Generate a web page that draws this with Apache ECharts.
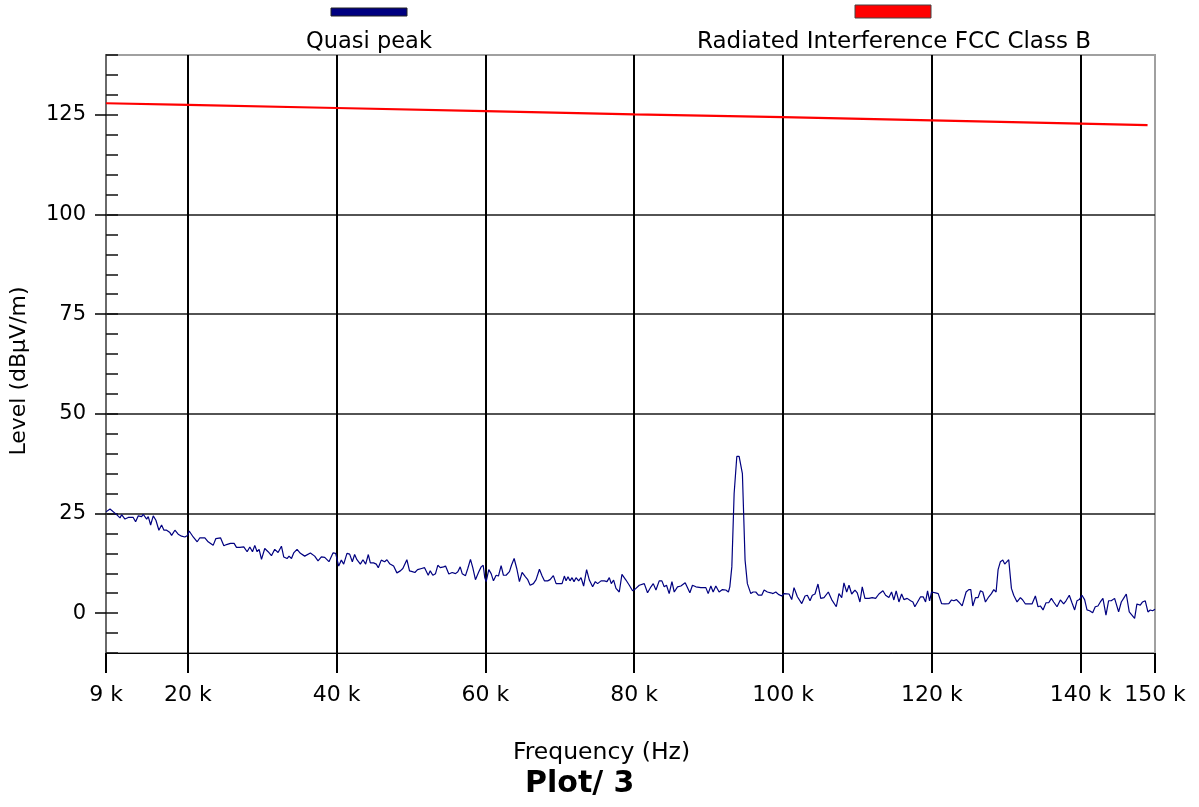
<!DOCTYPE html>
<html>
<head>
<meta charset="utf-8">
<script src="https://cdn.jsdelivr.net/npm/echarts@6/dist/echarts.min.js"></script>
<style>
html,body{margin:0;padding:0;background:#fff;}
#chart{width:1199px;height:807px;}
</style>
</head>
<body>
<div id="chart"></div>
<script>
// ---- data ----
const xTickValues = [9, 20, 40, 60, 80, 100, 120, 140, 150];
const yTickValues = [0, 25, 50, 75, 100, 125];

const qpFreq = [
9.0,9.54,10.43,10.88,11.1,11.55,11.99,12.66,12.98,13.34,13.79,14.0,14.46,14.68,15.0,15.35,15.71,16.11,16.47,16.79,
17.15,17.59,17.82,18.26,18.7,19.16,19.6,19.96,20.18,20.72,21.26,21.62,22.29,22.73,23.4,23.77,24.39,24.84,25.2,25.73,
26.22,26.54,26.99,27.52,27.97,28.33,28.69,29.0,29.31,29.58,29.9,30.34,30.79,31.24,31.68,32.13,
32.58,32.89,33.34,33.6,33.93,34.23,34.68,35.13,35.71,36.47,37.05,37.5,37.95,38.4,38.62,38.97,39.51,39.87,40.28,40.63,
40.95,41.39,41.75,42.11,42.42,42.73,43.19,43.54,43.9,44.26,44.53,44.97,45.33,45.6,46.0,46.45,46.76,47.12,47.66,48.1,
48.56,48.9,49.44,49.8,50.17,50.52,50.88,51.42,51.82,52.31,52.58,52.93,53.29,53.6,53.93,54.37,54.64,55.08,
55.53,55.98,56.29,56.61,56.88,57.32,57.63,57.99,58.3,58.66,59.11,59.43,59.7,59.91,60.1,60.45,60.77,61.08,61.44,61.75,
62.11,62.42,62.78,63.23,63.5,63.86,64.21,64.57,64.93,65.38,65.69,66.01,66.45,66.81,67.26,67.62,67.93,68.37,68.69,69.13,
69.5,69.94,70.3,70.61,70.84,71.1,71.37,71.64,71.91,72.18,72.53,72.85,73.2,73.6,73.97,74.41,74.77,75.08,75.54,75.98,
76.34,76.65,76.92,77.23,77.55,77.99,
78.35,78.89,79.34,79.78,80.23,80.68,81.35,81.79,82.25,82.56,82.92,83.36,83.72,84.03,84.34,84.7,85.07,85.38,85.82,86.27,
86.85,87.48,87.83,88.29,88.96,89.63,89.94,90.3,90.61,90.97,91.41,91.86,92.31,92.66,92.85,93.12,93.43,93.79,94.1,94.54,
94.9,95.21,95.67,95.98,96.34,96.69,97.14,97.46,97.9,98.36,98.66,99.03,99.38,99.56,99.83,100.14,100.81,
101.17,101.48,101.93,102.52,102.96,103.27,103.63,103.94,104.3,104.7,105.07,105.51,106.09,106.54,107.16,107.52,107.89,108.19,108.56,108.87,
109.23,109.67,109.98,110.34,110.65,111.01,111.55,111.99,112.45,112.89,113.43,113.79,114.23,114.59,114.9,115.21,115.58,115.94,116.25,116.69,
117.15,117.46,117.72,118.03,118.49,118.84,119.16,119.43,119.7,119.97,120.5,120.86,121.31,121.75,122.29,122.65,122.96,123.32,123.62,
124.08,124.61,124.97,125.24,125.51,125.87,126.22,126.54,126.85,127.21,127.66,128.01,128.33,128.64,128.91,129.22,129.54,129.8,130.03,130.34,
130.7,131.01,131.46,131.91,132.22,132.58,133.03,133.47,133.92,134.28,134.59,134.95,135.35,135.71,136.07,136.38,136.83,137.28,137.72,138.04,
138.48,138.84,139.2,139.51,139.83,140.18,140.54,140.86,141.21,141.62,141.97,142.33,142.65,143.0,143.41,143.76,144.12,144.57,145.11,145.47,
145.78,146.14,146.54,146.9,147.26,147.57,148.02,148.33,148.69,149.05,149.36,149.68,150.0
];
const qpLevel = [
25.4,26.1,24.7,23.9,24.7,23.6,24.0,24.0,22.9,24.4,24.2,24.8,23.6,24.2,22.1,24.4,23.3,20.8,22.1,20.8,
20.8,20.2,19.5,20.8,19.8,19.3,19.1,19.5,20.6,19.1,17.9,18.9,18.9,17.9,17.0,18.7,18.9,16.9,17.2,17.5,
17.5,16.5,16.5,16.6,15.4,16.6,15.4,17.0,15.4,16.0,13.5,16.2,15.4,14.4,16.0,15.2,
16.8,14.1,13.7,14.3,13.7,15.1,16.0,15.0,14.3,15.1,14.3,13.1,14.1,14.0,14.3,12.9,15.1,15.0,11.8,13.3,
12.3,15.0,14.8,12.9,14.7,13.4,12.3,13.4,12.3,14.7,12.6,12.6,12.3,11.4,13.3,12.9,13.4,12.4,11.8,10.1,
10.6,11.2,13.4,10.6,10.4,10.2,10.9,11.2,11.4,9.5,10.6,9.5,9.9,12.0,11.4,11.6,11.8,9.8,
10.2,9.9,10.4,11.6,9.9,9.4,11.2,13.5,11.4,8.4,10.4,11.6,12.0,8.9,7.9,10.9,9.9,8.1,9.5,9.3,
11.9,9.5,9.5,10.4,12.0,13.7,11.2,7.9,10.2,9.1,8.4,7.0,7.4,8.4,11.0,9.3,8.1,8.1,8.4,9.4,
7.4,7.4,7.4,9.3,8.1,9.1,8.1,8.9,7.9,8.9,8.1,8.9,6.8,10.9,8.3,6.6,7.9,7.4,8.1,8.1,
7.9,8.9,7.4,8.3,6.2,5.3,
9.7,8.3,7.0,5.6,6.2,7.0,7.4,5.1,6.6,7.4,5.8,8.1,8.1,6.6,7.0,4.9,7.9,5.3,6.6,6.8,
7.6,5.1,7.0,6.6,6.4,6.4,4.9,6.8,5.3,6.8,5.3,5.9,5.8,5.3,6.6,11.6,30.0,39.3,39.3,35.0,
13.3,7.4,4.9,5.3,5.3,4.5,4.5,5.8,5.3,5.1,4.9,5.3,4.7,5.1,4.3,4.9,4.8,
3.4,6.4,4.1,2.4,4.3,4.5,3.1,4.5,4.8,7.3,3.7,3.9,5.3,3.4,1.6,4.9,3.9,7.6,5.3,7.0,
4.8,5.8,5.1,2.8,6.6,3.7,3.7,3.9,3.7,4.8,5.6,4.5,3.9,5.3,3.3,5.6,2.8,4.8,3.4,3.7,
3.1,2.8,1.6,2.6,4.1,4.1,2.8,5.6,3.1,5.3,5.1,4.9,2.4,2.3,2.4,3.3,3.1,3.4,2.8,
1.8,5.3,5.9,5.9,1.8,3.9,3.9,5.6,5.3,2.8,4.1,4.9,5.9,5.3,10.9,12.9,13.3,12.3,12.4,13.4,
6.2,4.5,2.8,3.9,3.3,2.3,2.3,2.3,4.3,1.6,1.8,0.8,2.6,2.6,3.7,2.8,1.6,3.3,2.3,3.1,
4.5,2.6,0.8,3.1,3.4,4.5,3.4,0.8,0.6,0.1,1.6,1.8,2.8,3.7,-0.5,3.1,3.1,3.7,0.3,2.8,
3.7,4.8,0.3,-0.5,-1.3,2.3,2.0,2.8,3.1,0.3,0.8,0.6,1.0
];

const limitFreq  = [9, 20, 40, 60, 80, 100, 120, 140, 149];
const limitLevel = [127.9, 127.5, 126.7, 125.9, 125.1, 124.4, 123.6, 122.8, 122.4];

const seriesNames = ['Quasi peak', 'Radiated Interference FCC Class B'];
const seriesColors = ['#000080', '#ff0000'];

// ---- chart ----
const FONT = 'DejaVu Sans';
const chart = echarts.init(document.getElementById('chart'), null, {renderer: 'canvas'});

const qpData = qpFreq.map((f, i) => [f, qpLevel[i]]);
const limitData = limitFreq.map((f, i) => [f, limitLevel[i]]);

const option = {
  animation: false,
  backgroundColor: '#ffffff',
  textStyle: {fontFamily: FONT},
  title: {
    text: 'Plot/ 3',
    left: 525, top: 769, padding: 0,
    textStyle: {fontFamily: FONT, fontSize: 30, fontWeight: 'bold', color: '#000'}
  },
  grid: {
    left: 106, right: 44, top: 55, bottom: 154,
    show: true, borderColor: '#a0a0a0', borderWidth: 2, backgroundColor: 'transparent'
  },
  graphic: [
    {type: 'rect', shape: {x: 331, y: 8, width: 76, height: 8},
     style: {fill: seriesColors[0], stroke: '#222', lineWidth: 1}},
    {type: 'text', x: 369, y: 42,
     style: {text: seriesNames[0], fill: '#000', font: '22.5px "DejaVu Sans"', textAlign: 'center', textVerticalAlign: 'middle'}},
    {type: 'rect', shape: {x: 855, y: 5, width: 76, height: 13},
     style: {fill: seriesColors[1], stroke: '#444', lineWidth: 1}},
    {type: 'text', x: 894, y: 42,
     style: {text: seriesNames[1], fill: '#000', font: '23px "DejaVu Sans"', textAlign: 'center', textVerticalAlign: 'middle'}}
  ],
  xAxis: {
    type: 'value', min: 9, max: 150,
    name: 'Frequency (Hz)', nameLocation: 'middle', nameGap: 88,
    nameTextStyle: {fontFamily: FONT, fontSize: 23.5, color: '#000', padding: [0, 58, 0, 0]},
    axisLine: {show: true, onZero: false, lineStyle: {color: '#000', width: 1}},
    axisTick: {show: true, customValues: xTickValues, length: 20, lineStyle: {color: '#000', width: 2}},
    axisLabel: {customValues: xTickValues, formatter: v => v + ' k', fontFamily: FONT, fontSize: 22, color: '#000', margin: 31},
    splitLine: {show: true, showMinLine: false, showMaxLine: false, lineStyle: {color: '#000', width: 2}}
  },
  yAxis: [
    {
      type: 'value', min: -10, max: 140, position: 'left',
      name: 'Level (dBµV/m)', nameLocation: 'middle', nameGap: 76,
      nameTextStyle: {fontFamily: FONT, fontSize: 22, color: '#000', padding: [0, 34, 0, 0]},
      axisLine: {show: true, onZero: false, lineStyle: {color: '#6a6a6a', width: 2}},
      axisTick: {show: true, customValues: yTickValues, length: 11, lineStyle: {color: '#000', width: 1.5}},
      axisLabel: {customValues: yTickValues, fontFamily: FONT, fontSize: 21, color: '#000', margin: 20},
      splitLine: {show: true, showMinLine: false, showMaxLine: false, lineStyle: {color: '#1a1a1a', width: 1.5}}
    },
    {
      type: 'value', min: -10, max: 140, interval: 5, position: 'left',
      axisLine: {show: false},
      axisTick: {show: true, inside: true, length: 12, lineStyle: {color: '#111', width: 1.5}},
      axisLabel: {show: false},
      splitLine: {show: false}
    }
  ],
  series: [
    {
      name: seriesNames[0], type: 'line', data: qpData, yAxisIndex: 0,
      showSymbol: false, lineStyle: {color: seriesColors[0], width: 1.2}, z: 3
    },
    {
      name: seriesNames[1], type: 'line', data: limitData, yAxisIndex: 0,
      showSymbol: false, lineStyle: {color: seriesColors[1], width: 2.2}, z: 4
    }
  ]
};
chart.setOption(option);
</script>
</body>
</html>
